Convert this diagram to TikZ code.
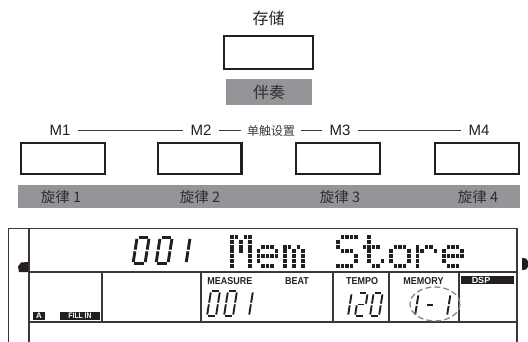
\documentclass[tikz,border=0pt]{standalone}
\usepackage{fontspec}
\setmainfont{Liberation Sans}
\newfontfamily\cjk{Noto Sans CJK SC}
\definecolor{ink}{HTML}{231F20}
\definecolor{lcd}{HTML}{3E3636}
\definecolor{bar}{HTML}{939598}
\definecolor{bartext}{HTML}{2E2E2E}
\definecolor{dash}{HTML}{8A8A8A}
\tikzset{
  keybox/.style={draw=ink, line width=2.4pt, minimum width=83.6pt, minimum height=30.6pt, inner sep=0pt},
  mlabel/.style={font=\fontsize{15}{15}\selectfont, text=ink, inner xsep=7pt, inner ysep=0pt},
  link/.style={draw=lcd, line width=0.9pt},
  graybar/.style={fill=bar, inner sep=0pt},
  bartxt/.style={font=\cjk\fontsize{14.5}{14.5}\selectfont, text=bartext, inner sep=0pt},
  lcdline/.style={draw=lcd, line width=1.3pt},
  lcdtxt/.style={font=\bfseries\fontsize{10}{10}\selectfont, text=ink, inner sep=0pt},
  tag/.style={fill=ink, text=white, font=\bfseries\fontsize{8}{8}\selectfont, inner sep=0pt, minimum height=8pt},
  segline/.style={draw=ink, line width=#1, line cap=butt}
}
% seven segment digit: x, y (bottom-left), width, height, thickness, segments
\newcommand\sevseg[6]{%
  \begin{scope}[shift={(#1,#2)},xslant=0.16]
    \def\W{#3}\def\H{#4}\def\G{1.4}%
    \foreach \s in {#6}{%
      \if\s a\draw[segline=#5] (\G,-\H) -- (\W-\G,-\H);\fi
      \if\s b\draw[segline=#5] (\W,-\H+\G) -- (\W,-\H/2-\G*0.6);\fi
      \if\s c\draw[segline=#5] (\W,-\H/2+\G*0.6) -- (\W,-\G);\fi
      \if\s d\draw[segline=#5] (\G,0) -- (\W-\G,0);\fi
      \if\s e\draw[segline=#5] (0,-\H/2+\G*0.6) -- (0,-\G);\fi
      \if\s f\draw[segline=#5] (0,-\H+\G) -- (0,-\H/2-\G*0.6);\fi
      \if\s g\draw[segline=#5] (\G,-\H/2) -- (\W-\G,-\H/2);\fi
    }%
  \end{scope}}
% dot matrix character: x, y (top-left), rows
\newcommand\dmchar[3]{%
  \foreach \r/\cs in {#3}{%
    \foreach \c in \cs {%
      \fill[ink] (#1+\c*4.5-4.5, #2+\r*4.8-4.8) rectangle ++(3.7,4.0);
    }%
  }}
\begin{document}
\begin{tikzpicture}[x=1pt,y=-1pt]
\useasboundingbox (0,0) rectangle (528,342);

% ---- top: store button
\node[font=\cjk\fontsize{16}{16}\selectfont, text=ink, inner sep=0pt] (store) at (268.5,18) {存储};
\node[keybox, minimum width=88.6pt, minimum height=32.6pt] (storekey) at (268.5,52.5) {};
\node[graybar, minimum width=86pt, minimum height=26pt, font=\cjk\fontsize{16}{16}\selectfont, text=bartext] (acc) at (269,92) {伴奏};

% ---- memory labels
\node[mlabel] (m1) at (60,130.5) {M1};
\node[mlabel] (m2) at (201,130.5) {M2};
\node[mlabel, font=\cjk\fontsize{12}{12}\selectfont, text=lcd, inner xsep=6pt] (one) at (271,130.5) {单触设置};
\node[mlabel] (m3) at (340,130.5) {M3};
\node[mlabel] (m4) at (479,130.5) {M4};
\draw[link] (m1) -- (m2);
\draw[link] (m2) -- (one);
\draw[link] (one) -- (m3);
\draw[link] (m3) -- (m4);

% ---- memory buttons
\node[keybox] (k1) at (63,158.5) {};
\node[keybox] (k2) at (199.5,158.5) {};
\node[keybox] (k3) at (338,158.5) {};
\node[keybox] (k4) at (477,158.5) {};

% ---- melody bar
\node[graybar, minimum width=502pt, minimum height=23pt] (mbar) at (269,196.5) {};
\node[bartxt] (t1) at (61,197) {旋律 1};
\node[bartxt] (t2) at (200,197) {旋律 2};
\node[bartxt] (t3) at (340,197) {旋律 3};
\node[bartxt] (t4) at (478,197) {旋律 4};

% ---- LCD frame
\draw[draw=lcd, line width=0.9pt] (8,342) -- (8,228) -- (517,228);
\draw[draw=lcd, line width=2pt] (28.5,228) -- (28.5,342);
\draw[draw=lcd, line width=2pt] (517,228) -- (517,342);
\draw[lcdline] (28.5,272) -- (517,272);
\draw[lcdline] (28.5,322) -- (517,322);
\foreach \xx in {102,201,333,389,459}{
  \draw[lcdline, line width=1.1pt] (\xx,272) -- (\xx,322);
}
\fill[ink] (28,262) -- (21,262.5) -- (18,266.5) -- (19,272) -- (28,272) -- cycle;
\fill[ink] (522,258) -- (526,258.5) -- (530,264) -- (526,269.5) -- (522,270) -- cycle;

% ---- big 001
\sevseg{133}{263.5}{12}{26}{2.9pt}{a,b,c,d,e,f}
\sevseg{156}{263.5}{12}{26}{2.9pt}{a,b,c,d,e,f}
\sevseg{174}{263.5}{12}{26}{2.9pt}{b,c}

% ---- dot matrix "Mem Store"
\dmchar{230}{235}{1/{1,2,4,5},2/{1,3,5},3/{1,3,5},4/{1,3,5},5/{1,5},6/{1,5},7/{1,5}}
\dmchar{256.5}{235}{3/{2,3,4},4/{1,5},5/{1,2,3,4,5},6/{1},7/{2,3,4}}
\dmchar{283}{235}{3/{1,2,4},4/{1,3,5},5/{1,3,5},6/{1,3,5},7/{1,3,5}}
\dmchar{336}{235}{1/{2,3,4,5},2/{1},3/{1},4/{2,3,4},5/{5},6/{5},7/{1,2,3,4}}
\dmchar{362.5}{235}{1/{2},2/{2},3/{1,2,3,4},4/{2},5/{2},6/{2,5},7/{3,4}}
\dmchar{389}{235}{3/{2,3,4},4/{1,5},5/{1,5},6/{1,5},7/{2,3,4}}
\dmchar{415.5}{235}{3/{1,3,4},4/{1,2,5},5/{1},6/{1},7/{1}}
\dmchar{442}{235}{3/{2,3,4},4/{1,5},5/{1,2,3,4,5},6/{1},7/{2,3,4}}

% ---- lower row labels
\node[tag, minimum width=12pt] (ta) at (39,315.5) {A};
\node[tag, minimum width=40pt] (tf) at (80,315.5) {\scalebox{0.85}[1]{FILL IN}};
\node[lcdtxt] (meas) at (230,281) {\scalebox{0.9}[1]{MEASURE}};
\node[lcdtxt] (beat) at (297,281) {\scalebox{0.9}[1]{BEAT}};
\node[lcdtxt] (tempo) at (362,281) {\scalebox{0.9}[1]{TEMPO}};
\node[lcdtxt] (memo) at (423.5,281) {\scalebox{0.9}[1]{MEMORY}};
\node[fill=ink, minimum width=53pt, minimum height=8pt, inner sep=0pt] (dspbox) at (487.5,280) {};
\node[text=white, font=\bfseries\fontsize{9}{9}\selectfont, inner sep=0pt] (dsp) at (481,280) {DSP};

% measure 001
\sevseg{207}{316}{9}{25}{1.9pt}{a,b,c,d,e,f}
\sevseg{224}{316}{9}{25}{1.9pt}{a,b,c,d,e,f}
\sevseg{240}{316}{9}{25}{1.9pt}{b,c}
% tempo 120
\sevseg{339}{316}{9}{23}{1.9pt}{b,c}
\sevseg{355}{316}{9}{23}{1.9pt}{a,b,g,e,d}
\sevseg{370}{316}{9}{23}{1.9pt}{a,b,c,d,e,f}
% memory 1- 1
\sevseg{406}{316}{9}{22}{1.9pt}{b,c}
\sevseg{424}{316}{9}{22}{1.9pt}{g}
\sevseg{438}{316}{9}{22}{1.9pt}{b,c}
\draw[draw=dash, line width=1.3pt, dash pattern=on 6pt off 3pt] (435,304) ellipse [x radius=25, y radius=17];
\end{tikzpicture}
\end{document}
